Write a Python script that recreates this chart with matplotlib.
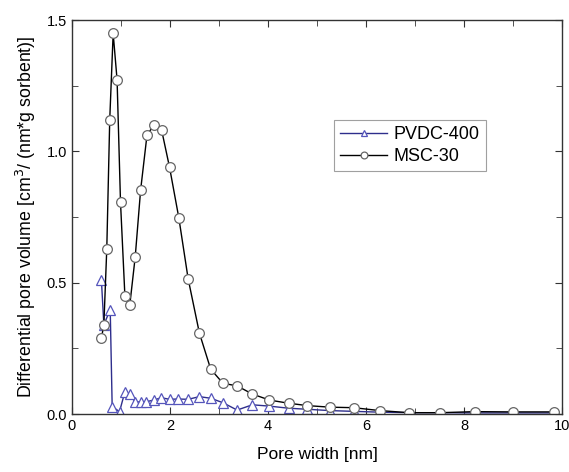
import matplotlib.pyplot as plt
import numpy as np
from matplotlib.ticker import MultipleLocator

plt.rcParams['font.family'] = ['Liberation Sans', 'DejaVu Sans']

# MSC-30 (circles)
msc_x = [0.60, 0.65, 0.71, 0.77, 0.84, 0.92, 0.99, 1.08, 1.18, 1.29, 1.40, 1.53,
         1.67, 1.83, 1.99, 2.18, 2.37, 2.60, 2.83, 3.08, 3.37, 3.68, 4.03, 4.42,
         4.80, 5.26, 5.75, 6.28, 6.88, 7.52, 8.22, 8.99, 9.83]
msc_y = [0.289, 0.339, 0.630, 1.120, 1.449, 1.272, 0.806, 0.448, 0.416, 0.598, 0.852, 1.061,
         1.100, 1.080, 0.940, 0.747, 0.515, 0.308, 0.171, 0.117, 0.107, 0.076, 0.053, 0.041,
         0.032, 0.026, 0.024, 0.013, 0.005, 0.005, 0.009, 0.008, 0.008]

# PVDC-400 (triangles)
pvdc_x = [0.60, 0.65, 0.78, 0.82, 0.97, 1.08, 1.18, 1.28, 1.40, 1.52, 1.67, 1.82,
          1.99, 2.16, 2.37, 2.60, 2.83, 3.08, 3.37, 3.68, 4.03, 4.42, 4.80, 5.26,
          5.75, 6.28, 6.88, 7.52, 8.22, 8.99, 9.83]
pvdc_y = [0.510, 0.340, 0.397, 0.028, 0.009, 0.085, 0.075, 0.047, 0.045, 0.047, 0.053, 0.062,
          0.056, 0.057, 0.056, 0.066, 0.060, 0.043, 0.015, 0.035, 0.030, 0.022, 0.018, 0.013,
          0.010, 0.007, 0.005, 0.005, 0.004, 0.004, 0.004]

fig = plt.figure(figsize=(5.69, 4.72), dpi=100)
ax = fig.add_axes([72/569, 1 - 414/472, 490/569, 394/472])

ax.plot(pvdc_x, pvdc_y, '-', color='#2e2e8c', lw=1.0, marker='^', ms=7,
        mfc='white', mec='#5555bb', mew=0.9, label='PVDC-400')
ax.plot(msc_x, msc_y, '-', color='black', lw=1.0, marker='o', ms=7,
        mfc='white', mec='#666666', mew=0.9, label='MSC-30')

ax.set_xlim(0, 10)
ax.set_ylim(0, 1.5)
ax.xaxis.set_major_locator(MultipleLocator(2))
ax.xaxis.set_minor_locator(MultipleLocator(1))
ax.yaxis.set_major_locator(MultipleLocator(0.5))
ax.yaxis.set_minor_locator(MultipleLocator(0.25))
ax.yaxis.set_major_formatter(plt.FormatStrFormatter('%.1f'))
ax.tick_params(which='both', direction='in', top=True, right=True, labelsize=10.5,
               color='#333333')
ax.tick_params(which='major', length=5)
ax.tick_params(which='minor', length=4)
for s in ax.spines.values():
    s.set_color('#333333')
    s.set_linewidth(1.0)

ax.set_xlabel('Pore width [nm]', fontsize=12.5, labelpad=10)
ax.set_ylabel('Differential pore volume [cm$^3$/ (nm*g sorbent)]', fontsize=12.8, labelpad=6)

leg = ax.legend(loc='upper left', bbox_to_anchor=(262/490, 1 - 100/394), fontsize=13,
                frameon=True, fancybox=False, edgecolor='#888888', handlelength=2.6,
                markerscale=0.7, borderpad=0.35, labelspacing=0.25, handletextpad=0.35,
                borderaxespad=0.0)
leg.get_frame().set_linewidth(0.8)

fig.savefig('out.png', dpi=100)
